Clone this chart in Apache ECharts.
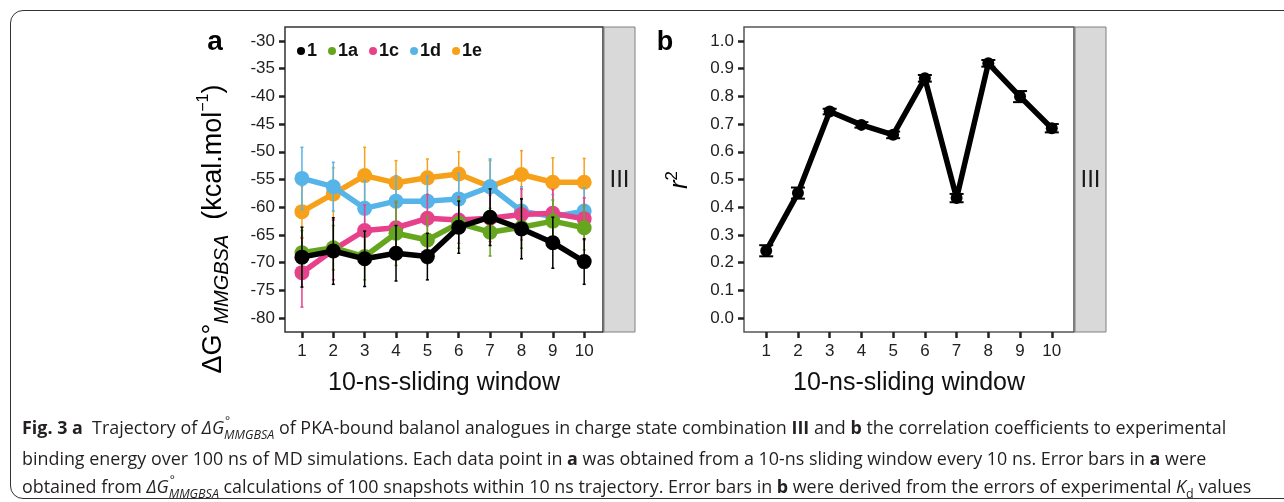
<!DOCTYPE html>
<html>
<head>
<meta charset="utf-8">
<script src="https://cdn.jsdelivr.net/npm/echarts@6/dist/echarts.min.js"></script>
<style>
  html, body { margin: 0; padding: 0; background: #fff; }
  #wrap { position: relative; width: 1284px; height: 502px; overflow: hidden; }
  #chart { position: absolute; left: 0; top: 0; width: 1284px; height: 502px; }
  #box { position: absolute; left: 10px; top: 10px; width: 1330px; height: 489px; border: 1.5px solid #333; border-radius: 13px; box-sizing: border-box; }
  #caption { position: absolute; left: 22px; top: 413px; font-family: 'Open Sans'; font-size: 17.9px; line-height: 28px; color: #231f20; white-space: nowrap; }
  #caption b { font-weight: 700; }
  .st { position: relative; display: inline-block; font-style: italic; }
  .deg { position: absolute; left: 1px; top: -6px; font-size: 12px; font-style: normal; }
  .sb { font-size: 12.5px; position: relative; top: 5px; }
</style>
</head>
<body>
<div id="wrap">
  <div id="box"></div>
  <div id="chart"></div>
  <div id="caption">
    <b>Fig. 3 a</b>&nbsp; Trajectory of <i>ΔG</i><span class="st"><span class="deg">°</span><span class="sb">MMGBSA</span></span> of PKA-bound balanol analogues in charge state combination <b>III</b> and <b>b</b> the correlation coefficients to experimental<br>
    binding energy over 100 ns of MD simulations. Each data point in <b>a</b> was obtained from a 10-ns sliding window every 10 ns. Error bars in <b>a</b> were<br>
    obtained from <i>ΔG</i><span class="st"><span class="deg">°</span><span class="sb">MMGBSA</span></span> calculations of 100 snapshots within 10 ns trajectory. Error bars in <b>b</b> were derived from the errors of experimental <i>K</i><sub style="font-size:12.5px">d</sub> values
  </div>
</div>
<script>
// sliding windows (x)
const windows = [1, 2, 3, 4, 5, 6, 7, 8, 9, 10]

// panel a: dG MMGBSA per compound (kcal/mol) and error
const compounds = ['1', '1a', '1c', '1d', '1e']
const colors = ['#000000', '#66a61e', '#e8418c', '#56b4e9', '#f7a11a']
const dG_1 = [-69.0, -67.9, -69.3, -68.3, -68.9, -63.6, -61.8, -63.9, -66.4, -69.8]
const err_1 = [5.4, 6.0, 5.0, 5.0, 4.2, 4.7, 5.1, 5.4, 4.6, 4.1]
const dG_1a = [-68.2, -67.3, -68.9, -64.7, -65.9, -62.9, -64.5, -63.6, -62.5, -63.7]
const err_1a = [4.0, 4.0, 4.2, 5.8, 4.3, 4.5, 4.3, 3.8, 3.8, 4.0]
const dG_1c = [-71.8, -67.7, -64.2, -63.7, -62.0, -62.3, -62.0, -61.3, -61.1, -62.1]
const err_1c = [6.2, 5.4, 4.6, 4.5, 4.3, 4.2, 4.2, 4.6, 4.3, 3.8]
const dG_1d = [-54.8, -56.3, -60.2, -58.9, -58.9, -58.5, -56.3, -60.7, -61.7, -60.7]
const err_1d = [5.6, 4.4, 5.0, 4.6, 4.5, 4.6, 5.0, 4.4, 4.0, 4.2]
const dG_1e = [-60.8, -57.6, -54.3, -55.6, -54.7, -54.0, -56.3, -54.1, -55.5, -55.5]
const err_1e = [4.6, 4.7, 5.1, 4.0, 3.4, 4.0, 4.7, 4.3, 4.4, 4.3]
const dGTicks = [-80, -75, -70, -65, -60, -55, -50, -45, -40, -35, -30]

// panel b: r^2 and error
const r2 = [0.243, 0.451, 0.745, 0.697, 0.661, 0.865, 0.433, 0.919, 0.799, 0.685]
const r2Err = [0.02, 0.02, 0.01, 0.01, 0.012, 0.012, 0.015, 0.012, 0.02, 0.015]
const r2Ticks = [0, 0.1, 0.2, 0.3, 0.4, 0.5, 0.6, 0.7, 0.8, 0.9, 1.0]

const FONT = 'Liberation Sans'
const dGSeries = [dG_1, dG_1a, dG_1c, dG_1d, dG_1e]
const errSeries = [err_1, err_1a, err_1c, err_1d, err_1e]

function xAxisCfg(gridIndex, min, max) {
  return {
    type: 'value', gridIndex, min, max,
    axisLine: { show: false, onZero: false },
    splitLine: { show: false },
    axisTick: { show: true, length: 6, lineStyle: { color: '#222', width: 2.5 }, customValues: windows },
    axisLabel: { customValues: windows, margin: 11, fontSize: 17, color: '#222', fontFamily: FONT },
    name: '10-ns-sliding window', nameLocation: 'middle', nameGap: 39,
    nameTextStyle: { fontSize: 25, color: '#111', fontFamily: FONT }
  }
}

function yAxisCfg(gridIndex, min, max, ticks, fmt) {
  return {
    type: 'value', gridIndex, min, max,
    axisLine: { show: false, onZero: false },
    splitLine: { show: false },
    axisTick: { show: true, length: 6, lineStyle: { color: '#222', width: 2.5 }, customValues: ticks },
    axisLabel: { customValues: ticks, margin: 10, fontSize: 17, color: '#222', fontFamily: FONT, formatter: fmt }
  }
}

function errorBars(name, vals, errs, color, axis, cap, width, z) {
  return {
    type: 'custom', name, xAxisIndex: axis, yAxisIndex: axis, z, silent: true,
    data: windows.map((w, i) => [w, vals[i] - errs[i], vals[i] + errs[i]]),
    encode: { x: 0, y: [1, 2] },
    renderItem(params, api) {
      const lo = api.coord([api.value(0), api.value(1)])
      const hi = api.coord([api.value(0), api.value(2)])
      const st = { stroke: color, lineWidth: width }
      return {
        type: 'group',
        children: [
          { type: 'line', shape: { x1: lo[0], y1: lo[1], x2: hi[0], y2: hi[1] }, style: st },
          { type: 'line', shape: { x1: lo[0] - cap, y1: lo[1], x2: lo[0] + cap, y2: lo[1] }, style: st },
          { type: 'line', shape: { x1: hi[0] - cap, y1: hi[1], x2: hi[0] + cap, y2: hi[1] }, style: st }
        ]
      }
    }
  }
}

const series = []
compounds.forEach((c, k) => {
  const z = 20 - k * 2
  series.push({
    type: 'line', name: c, xAxisIndex: 0, yAxisIndex: 0, z: z,
    data: windows.map((w, i) => [w, dGSeries[k][i]]),
    symbol: 'circle', symbolSize: 15, showSymbol: true,
    lineStyle: { color: colors[k], width: 5.5 },
    itemStyle: { color: colors[k] },
    emphasis: { disabled: true }
  })
})
compounds.forEach((c, k) => {
  series.push(errorBars(c + ' err', dGSeries[k], errSeries[k], colors[k], 0, 1.5, 1.5, 19 - k * 2))
})
series.push({
  type: 'line', name: 'r2', xAxisIndex: 1, yAxisIndex: 1, z: 10,
  data: windows.map((w, i) => [w, r2[i]]),
  symbol: 'circle', symbolSize: 12,
  lineStyle: { color: '#000', width: 5.5 },
  itemStyle: { color: '#000' },
  emphasis: { disabled: true }
})
series.push(errorBars('r2 err', r2, r2Err, '#000', 1, 7, 2, 11))

const chart = echarts.init(document.getElementById('chart'), null, { renderer: 'canvas' })
chart.setOption({
  animation: false,
  grid: [
    { left: 285, top: 27, width: 318, height: 305, show: true, borderColor: '#333', borderWidth: 1.5, backgroundColor: '#fff' },
    { left: 744, top: 27, width: 330, height: 305, show: true, borderColor: '#555', borderWidth: 1.5, backgroundColor: '#fff' }
  ],
  xAxis: [xAxisCfg(0, 0.46, 10.6), xAxisCfg(1, 0.3, 10.7)],
  yAxis: [
    yAxisCfg(0, -82.5, -27.5, dGTicks, v => String(v)),
    yAxisCfg(1, -0.05, 1.05, r2Ticks, v => v.toFixed(1))
  ],
  legend: {
    data: compounds.map(c => ({ name: c, icon: 'circle' })),
    selectedMode: false,
    left: 292, top: 37,
    itemWidth: 8, itemHeight: 8, itemGap: 11,
    textStyle: { fontFamily: FONT, fontWeight: 'bold', fontSize: 18, color: '#111', padding: [0, 0, 0, -3] }
  },
  graphic: [
    { type: 'rect', shape: { x: 604, y: 27, width: 31, height: 305 }, style: { fill: '#d9d9d9', stroke: '#808080', lineWidth: 1 } },
    { type: 'text', x: 619.5, y: 180, style: { text: 'III', font: '24px "Liberation Sans"', fill: '#1a1a1a', align: 'center', verticalAlign: 'middle' } },
    { type: 'rect', shape: { x: 1075, y: 27, width: 31, height: 305 }, style: { fill: '#d9d9d9', stroke: '#808080', lineWidth: 1 } },
    { type: 'text', x: 1090.5, y: 180, style: { text: 'III', font: '24px "Liberation Sans"', fill: '#1a1a1a', align: 'center', verticalAlign: 'middle' } },
    { type: 'text', x: 215, y: 42, style: { text: 'a', font: 'bold 28px "Liberation Sans"', fill: '#000', align: 'center', verticalAlign: 'middle' } },
    { type: 'text', x: 665, y: 43, style: { text: 'b', font: 'bold 27px "Liberation Sans"', fill: '#000', align: 'center', verticalAlign: 'middle' } },
    {
      type: 'text', x: 214, y: 229, rotation: Math.PI / 2,
      style: {
        text: '{a|ΔG°}{s|MMGBSA}{a|  (kcal.mol}{p|−1}{a|)}',
        align: 'center', verticalAlign: 'middle',
        rich: {
          a: { fontFamily: FONT, fontSize: 27, lineHeight: 36, color: '#111' },
          s: { fontFamily: FONT, fontSize: 20, fontStyle: 'italic', lineHeight: 20, verticalAlign: 'bottom', color: '#111' },
          p: { fontFamily: FONT, fontSize: 16, lineHeight: 16, verticalAlign: 'top', color: '#111' }
        }
      }
    },
    {
      type: 'text', x: 680, y: 180, rotation: Math.PI / 2,
      style: {
        text: '{r|r}{p|2}',
        align: 'center', verticalAlign: 'middle',
        rich: {
          r: { fontFamily: FONT, fontSize: 26, fontStyle: 'italic', lineHeight: 32, color: '#111' },
          p: { fontFamily: FONT, fontSize: 17, lineHeight: 17, verticalAlign: 'top', color: '#111' }
        }
      }
    }
  ],
  series: series
})
</script>
</body>
</html>
